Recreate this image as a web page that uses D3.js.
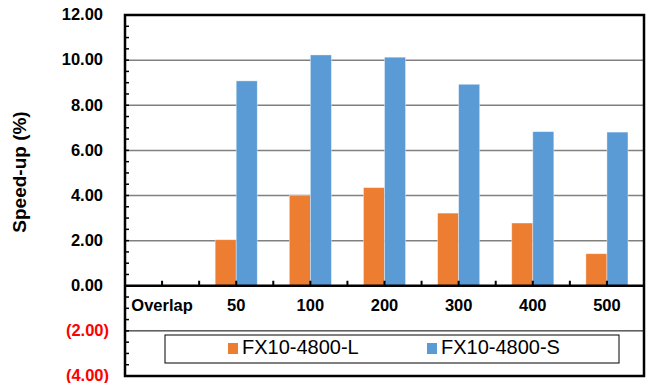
<!DOCTYPE html>
<html>
<head>
<meta charset="utf-8">
<script src="https://cdn.jsdelivr.net/npm/d3@7"></script>
<style>
  body { margin: 0; background: #fff; }
  svg { display: block; font-family: Arial, "Liberation Sans", sans-serif; }
</style>
</head>
<body>
<div id="chart"></div>
<script>
// chart data
const categories = ["Overlap", "50", "100", "200", "300", "400", "500"];
const seriesNames = ["FX10-4800-L", "FX10-4800-S"];
const seriesL = [null, 2.04, 4.00, 4.35, 3.22, 2.78, 1.42];
const seriesS = [null, 9.08, 10.23, 10.13, 8.93, 6.83, 6.81];
const yTicks = [-4, -2, 0, 2, 4, 6, 8, 10, 12];
const colors = ["#ED7D31", "#5B9BD5"];

const width = 648, height = 383;
const plot = {left: 125, right: 644, top: 15, bottom: 376};

const svg = d3.select("#chart").append("svg")
    .attr("width", width)
    .attr("height", height);

let x = d3.scaleBand()
    .domain(categories)
    .range([plot.left, plot.right]);

let xSub = d3.scaleBand()
    .domain(seriesNames)
    .range([0, x.bandwidth()])
    .paddingInner(0)
    .paddingOuter(0.762);

let y = d3.scaleLinear()
    .domain([-4, 12])
    .range([plot.bottom, plot.top]);

// gridlines (positive side gray, -2 black)
svg.append("g").selectAll("line")
    .data(yTicks.filter(d => d > 0 && d < 12))
    .enter().append("line")
    .attr("x1", plot.left).attr("x2", plot.right)
    .attr("y1", d => y(d)).attr("y2", d => y(d))
    .attr("stroke", "#808080")
    .attr("stroke-width", 1.5);

svg.append("line")
    .attr("x1", plot.left).attr("x2", plot.right)
    .attr("y1", y(-2)).attr("y2", y(-2))
    .attr("stroke", "#000")
    .attr("stroke-width", 1);

// bars
const rows = categories.map((c, i) => ({cat: c, vals: [seriesL[i], seriesS[i]]}));

svg.append("g").selectAll("g")
    .data(rows)
    .enter().append("g")
    .attr("transform", d => `translate(${x(d.cat)},0)`)
    .selectAll("rect")
    .data(d => d.vals.map((v, j) => ({name: seriesNames[j], v: v, j: j})).filter(e => e.v !== null))
    .enter().append("rect")
    .attr("x", d => xSub(d.name))
    .attr("width", xSub.bandwidth())
    .attr("y", d => y(d.v))
    .attr("height", d => y(0) - y(d.v))
    .attr("fill", d => colors[d.j])
    .attr("stroke", "#fff")
    .attr("stroke-opacity", 0.5)
    .attr("stroke-width", 0.75);

// x axis line with half-category ticks
const halfTicks = d3.range(1, categories.length * 2).map(k => plot.left + k * x.step() / 2);
svg.append("g").selectAll("line")
    .data(halfTicks)
    .enter().append("line")
    .attr("x1", d => d).attr("x2", d => d)
    .attr("y1", y(0)).attr("y2", y(0) - 5)
    .attr("stroke", "#000")
    .attr("stroke-width", 2);

svg.append("line")
    .attr("x1", plot.left).attr("x2", plot.right)
    .attr("y1", y(0)).attr("y2", y(0))
    .attr("stroke", "#000")
    .attr("stroke-width", 2.5);

// category labels
svg.append("g").selectAll("text")
    .data(categories)
    .enter().append("text")
    .attr("x", d => x(d) + x.bandwidth() / 2)
    .attr("y", 307)
    .attr("text-anchor", "middle")
    .attr("dominant-baseline", "middle")
    .attr("font-size", 16.5)
    .attr("font-weight", "bold")
    .attr("fill", "#000")
    .text(d => d);

// y axis minor ticks
svg.append("g").selectAll("line")
    .data(d3.range(-4, 12.01, 0.5))
    .enter().append("line")
    .attr("x1", plot.left).attr("x2", plot.left + 4)
    .attr("y1", d => y(d)).attr("y2", d => y(d))
    .attr("stroke", "#000")
    .attr("stroke-width", 1.5);

// plot border
svg.append("rect")
    .attr("x", plot.left).attr("y", plot.top)
    .attr("width", plot.right - plot.left)
    .attr("height", plot.bottom - plot.top)
    .attr("fill", "none")
    .attr("stroke", "#000")
    .attr("stroke-width", 2.5);

// y tick labels
svg.append("g").selectAll("text")
    .data(yTicks)
    .enter().append("text")
    .attr("x", d => d < 0 ? 109 : 103)
    .attr("y", d => y(d) + 1)
    .attr("text-anchor", "end")
    .attr("dominant-baseline", "middle")
    .attr("font-size", 16.5)
    .attr("font-weight", "bold")
    .attr("fill", d => d < 0 ? "#FF0000" : "#000")
    .text(d => d < 0 ? `(${d3.format(".2f")(-d)})` : d3.format(".2f")(d));

// y axis title
svg.append("text")
    .attr("transform", "translate(21,172) rotate(-90)")
    .attr("text-anchor", "middle")
    .attr("dominant-baseline", "middle")
    .attr("font-size", 19)
    .attr("font-weight", "bold")
    .text("Speed-up (%)");

// legend
const legend = svg.append("g");
legend.append("rect")
    .attr("x", 165).attr("y", 335)
    .attr("width", 454).attr("height", 28)
    .attr("fill", "#fff")
    .attr("stroke", "#000")
    .attr("stroke-width", 1);

const legendX = [228, 427];
seriesNames.forEach((name, i) => {
    legend.append("rect")
        .attr("x", legendX[i]).attr("y", 343)
        .attr("width", 10).attr("height", 11)
        .attr("fill", colors[i]);
    legend.append("text")
        .attr("x", legendX[i] + 14)
        .attr("y", 349)
        .attr("dominant-baseline", "middle")
        .attr("font-size", 20)
        .text(name);
});
</script>
</body>
</html>
